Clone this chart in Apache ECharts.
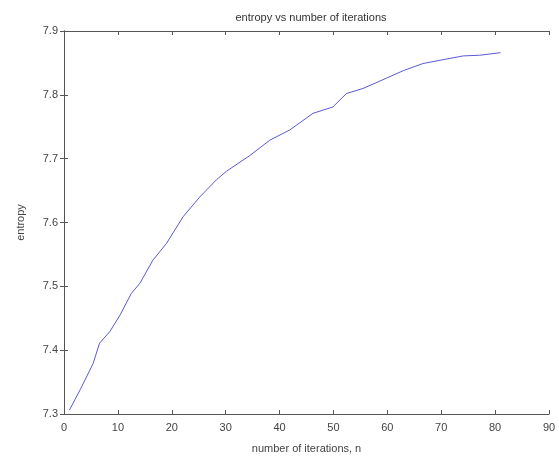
<!DOCTYPE html>
<html>
<head>
<meta charset="utf-8">
<script src="https://cdn.jsdelivr.net/npm/echarts@6/dist/echarts.min.js"></script>
<style>html,body{margin:0;padding:0;background:#fff}#c{width:559px;height:459px}</style>
</head>
<body>
<div id="c"></div>
<script>
var titleText = "entropy vs number of iterations";
var xName = "number of iterations, n";
var yName = "entropy";
var iterations = [1, 3, 5.4, 6.6, 8.5, 10.4, 12.5, 14.1, 16.5, 19, 22.1, 25.2, 28.3, 30.1, 34.5, 38.2, 41.9, 46.2, 49.9, 52.4, 55.5, 59.8, 63, 66.6, 70.3, 74.1, 77.1, 81];
var entropy = [7.306, 7.338, 7.379, 7.411, 7.429, 7.455, 7.489, 7.505, 7.541, 7.567, 7.609, 7.640, 7.667, 7.680, 7.705, 7.729, 7.745, 7.771, 7.781, 7.802, 7.810, 7.826, 7.838, 7.849, 7.855, 7.861, 7.862, 7.866];
var xTicks = [0, 90, 10];
var yTicks = [7.3, 7.9, 0.1];

var pts = iterations.map(function (x, i) { return [x, entropy[i]]; });
var axisColor = '#555';
var font = 'Liberation Sans, Arial, sans-serif';
var chart = echarts.init(document.getElementById('c'), null, {renderer: 'canvas'});
chart.setOption({
  animation: false,
  backgroundColor: '#fff',
  title: {
    text: titleText, left: 306, textAlign: 'center', top: 7,
    textStyle: {fontSize: 11, fontWeight: 'normal', color: '#333', fontFamily: font}
  },
  grid: {left: 64, right: 10, top: 31, bottom: 45, containLabel: false},
  xAxis: [{
    type: 'value', min: xTicks[0], max: xTicks[1], interval: xTicks[2],
    name: xName, nameLocation: 'middle', nameGap: 29,
    nameTextStyle: {fontSize: 11, color: '#444', fontFamily: font},
    axisLine: {show: true, lineStyle: {color: axisColor, width: 1}},
    axisTick: {show: true, inside: true, length: 4, lineStyle: {color: axisColor}},
    axisLabel: {fontSize: 11, color: '#444', margin: 8, fontFamily: font},
    splitLine: {show: false}
  }, {
    type: 'value', position: 'top', min: xTicks[0], max: xTicks[1], interval: xTicks[2],
    axisLine: {show: true, lineStyle: {color: axisColor, width: 1}},
    axisTick: {show: true, inside: true, length: 4, lineStyle: {color: axisColor}},
    axisLabel: {show: false}, splitLine: {show: false}
  }],
  yAxis: [{
    type: 'value', min: yTicks[0], max: yTicks[1], interval: yTicks[2],
    name: yName, nameLocation: 'middle', nameGap: 38, nameRotate: 90,
    nameTextStyle: {fontSize: 11, color: '#444', fontFamily: font},
    axisLine: {show: true, lineStyle: {color: axisColor, width: 1}},
    axisTick: {show: true, inside: true, length: 4, lineStyle: {color: axisColor}},
    axisLabel: {fontSize: 11, color: '#444', margin: 6, fontFamily: font,
      formatter: function (v) { return v.toFixed(1); }},
    splitLine: {show: false}
  }, {
    type: 'value', position: 'right', min: yTicks[0], max: yTicks[1], interval: yTicks[2],
    axisLine: {show: true, lineStyle: {color: axisColor, width: 1}},
    axisTick: {show: true, inside: true, length: 4, lineStyle: {color: axisColor}},
    axisLabel: {show: false}, splitLine: {show: false}
  }],
  series: [{
    type: 'line', data: pts, xAxisIndex: 0, yAxisIndex: 0,
    showSymbol: false, smooth: false,
    lineStyle: {color: '#5a5ad6', width: 1}
  }]
});
</script>
</body>
</html>
